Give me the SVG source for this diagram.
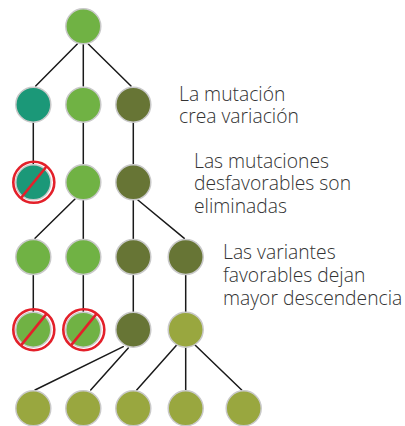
<svg xmlns="http://www.w3.org/2000/svg" width="405" height="426" viewBox="0 0 405 426">
<style>
.n{stroke:#c9c9c9;stroke-width:1.5}
.teal{fill:#1b9878}
.green{fill:#70b244}
.olive{fill:#677535}
.lolive{fill:#99a73f}
.c line{stroke:#1a1a1a;stroke-width:1.5;stroke-linecap:round}
.x{fill:none;stroke:#e3202a;stroke-width:2.6}
.t{font-family:"Open Sans",Lato,sans-serif;font-size:19.3px;font-weight:300;fill:#333}
</style>
<rect width="405" height="426" fill="#fff"/>
<g id="connectors" class="c">
<line x1="77.3" y1="44" x2="35.7" y2="86"/>
<line x1="83.3" y1="44" x2="83.3" y2="86"/>
<line x1="88.3" y1="44" x2="131" y2="86"/>
<line x1="33.3" y1="122" x2="33.3" y2="165"/>
<line x1="83.3" y1="122" x2="83.3" y2="165"/>
<line x1="133.3" y1="122" x2="133.3" y2="165"/>
<line x1="75" y1="199" x2="35" y2="238.3"/>
<line x1="83.3" y1="200" x2="83.3" y2="239"/>
<line x1="133.3" y1="200" x2="133.3" y2="239"/>
<line x1="136.7" y1="199" x2="184.3" y2="238.3"/>
<line x1="33.3" y1="275" x2="33.3" y2="312"/>
<line x1="83.3" y1="275" x2="83.3" y2="312"/>
<line x1="133.3" y1="275" x2="133.3" y2="312"/>
<line x1="185.7" y1="275" x2="185.7" y2="312"/>
<line x1="123.3" y1="346.7" x2="35" y2="390"/>
<line x1="128.3" y1="348" x2="90.7" y2="390"/>
<line x1="176.7" y1="345" x2="136.7" y2="390"/>
<line x1="185.7" y1="347" x2="185.7" y2="390"/>
<line x1="195" y1="345" x2="241.7" y2="390"/>
</g>
<g id="n1"><circle class="n green" cx="83.3" cy="26.3" r="17.5"/></g>
<g id="n2a"><circle class="n teal" cx="33.3" cy="104.7" r="17.5"/></g>
<g id="n2b"><circle class="n green" cx="83.3" cy="104.7" r="17.5"/></g>
<g id="n2c"><circle class="n olive" cx="133.3" cy="104.7" r="17.5"/></g>
<g id="n3a"><circle class="n teal" cx="33.3" cy="182.3" r="17.5"/><circle class="x" cx="33.8" cy="182.3" r="20.5"/><line class="x" x1="46.5" y1="166.5" x2="21" y2="198"/></g>
<g id="n3b"><circle class="n green" cx="83.3" cy="182.3" r="17.5"/></g>
<g id="n3c"><circle class="n olive" cx="133.3" cy="182.3" r="17.5"/></g>
<g id="n4a"><circle class="n green" cx="33.3" cy="257" r="17.5"/></g>
<g id="n4b"><circle class="n green" cx="83.3" cy="257" r="17.5"/></g>
<g id="n4c"><circle class="n olive" cx="133.3" cy="257" r="17.5"/></g>
<g id="n4d"><circle class="n olive" cx="185.7" cy="257" r="17.5"/></g>
<g id="n5a"><circle class="n green" cx="33.3" cy="329.7" r="17.5"/><circle class="x" cx="33.8" cy="329.7" r="20.5"/><line class="x" x1="46.5" y1="313.9" x2="21" y2="345.4"/></g>
<g id="n5b"><circle class="n green" cx="83.3" cy="329.7" r="17.5"/><circle class="x" cx="83.8" cy="329.7" r="20.5"/><line class="x" x1="96.5" y1="313.9" x2="71" y2="345.4"/></g>
<g id="n5c"><circle class="n olive" cx="133.3" cy="329.7" r="17.5"/></g>
<g id="n5d"><circle class="n lolive" cx="185.7" cy="329.7" r="17.5"/></g>
<g id="n6a"><circle class="n lolive" cx="33.3" cy="408.3" r="17.5"/></g>
<g id="n6b"><circle class="n lolive" cx="83.3" cy="408.3" r="17.5"/></g>
<g id="n6c"><circle class="n lolive" cx="133.3" cy="408.3" r="17.5"/></g>
<g id="n6d"><circle class="n lolive" cx="185.7" cy="408.3" r="17.5"/></g>
<g id="n6e"><circle class="n lolive" cx="243.7" cy="408.3" r="17.5"/></g>
<g id="labels" class="t">
<text x="179" y="101.3">La mutación</text>
<text x="179" y="122.5">crea variación</text>
<text x="194" y="167.7">Las mutaciones</text>
<text x="194" y="190.3">desfavorables son</text>
<text x="194" y="213">eliminadas</text>
<text x="223" y="258.5">Las variantes</text>
<text x="223" y="281.5">favorables dejan</text>
<text x="223" y="304.5">mayor descendencia</text>
</g>
</svg>
